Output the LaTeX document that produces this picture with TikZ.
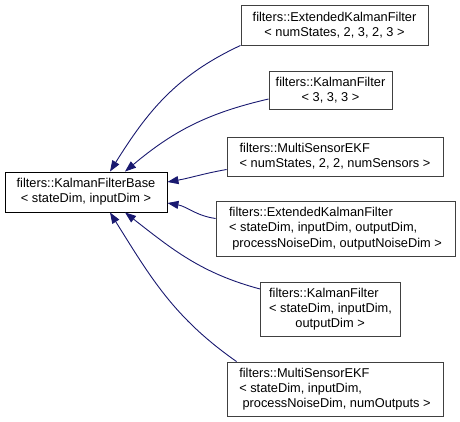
\documentclass[tikz,border=0pt]{standalone}
\usepackage{fontspec}
\setmainfont{Liberation Sans}
\usetikzlibrary{arrows.meta,positioning}
\definecolor{edgeblue}{HTML}{191970}
\tikzset{
  line cap=round,
  line join=round,
  classbox/.style={draw=black!75, fill=white, line width=0.9pt, align=left, inner sep=0pt, font=\fontsize{12.8}{15.3}\selectfont},
  basebox/.style={classbox, draw=black},
  inherit/.style={{Triangle[length=11pt,width=8pt]}-, draw=edgeblue, line width=0.9pt}
}

\begin{document}
\begin{tikzpicture}[x=1pt,y=-1pt]
	\useasboundingbox (0,0) rectangle (460,422);

	\node[basebox, align=center, minimum width=162pt, minimum height=40pt] (kfbase) at (86,192)
		{filters::KalmanFilterBase\\< stateDim, inputDim >};

	\node[classbox, align=center, minimum width=187pt, minimum height=40pt] (ekfnum) at (334.5,25)
		{filters::ExtendedKalmanFilter\\< numStates, 2, 3, 2, 3 >};
	\node[classbox, align=center, minimum width=123pt, minimum height=38pt] (kfthree) at (330.5,90)
		{filters::KalmanFilter\\< 3, 3, 3 >};
	\node[classbox, minimum width=216pt, minimum height=39pt] (msekfnum) at (335,156.5)
		{filters::MultiSensorEKF\\< numStates, 2, 2, numSensors >};
	\node[classbox, minimum width=239pt, minimum height=55pt] (ekfdim) at (335.5,228.5)
		{filters::ExtendedKalmanFilter\\< stateDim, inputDim, outputDim,\\\hspace*{0.25em}processNoiseDim, outputNoiseDim >};
	\node[classbox, minimum width=140pt, minimum height=54pt] (kfdim) at (330.5,309)
		{filters::KalmanFilter\\< stateDim, inputDim,\\\hspace*{2.05em}outputDim >};
	\node[classbox, minimum width=216pt, minimum height=54pt] (msekfdim) at (335,389)
		{filters::MultiSensorEKF\\< stateDim, inputDim,\\\hspace*{0.25em}processNoiseDim, numOutputs >};

	% inheritance edges
	\draw[inherit] ([xshift=24pt]kfbase.north) to[out=58,in=205] (ekfnum.south west);
	\draw[inherit] ([xshift=39pt]kfbase.north) to[out=40,in=193] ([yshift=-9pt]kfthree.west);
	\draw[inherit] ([yshift=10pt]kfbase.east) to[out=10,in=190] ([yshift=-13pt]msekfnum.west);
	\draw[inherit] ([yshift=-11pt]kfbase.east) to[out=-10,in=172] ([yshift=10pt]ekfdim.west);
	\draw[inherit] ([xshift=39pt]kfbase.south) to[out=-38,in=165] ([yshift=20pt]kfdim.west);
	\draw[inherit] ([xshift=24pt]kfbase.south) to[out=-58,in=145] ([xshift=10pt]msekfdim.north west);
\end{tikzpicture}
\end{document}
